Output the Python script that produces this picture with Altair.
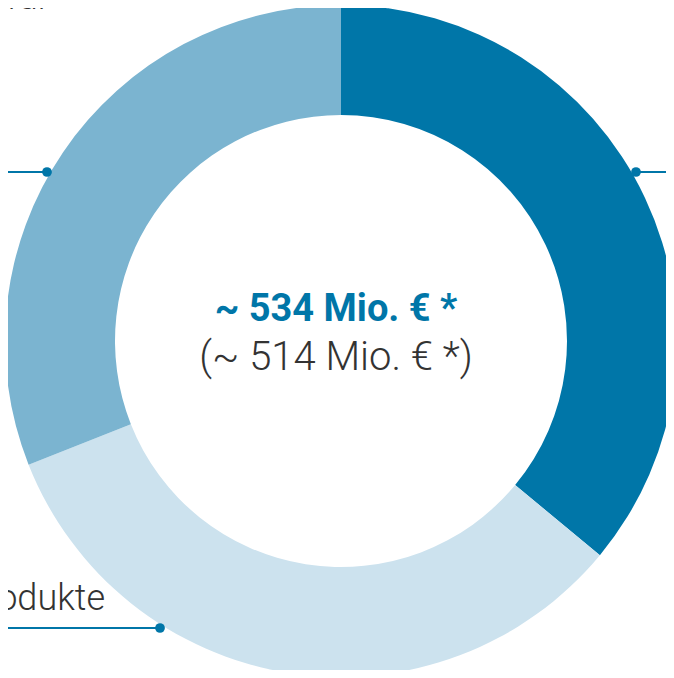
import altair as alt
import pandas as pd

# Donut segments (share in %), in drawing order clockwise from 12 o'clock
segments = ["Segment A", "Segment B", "Segment C"]
shares = [36, 33, 31]
colors = ["#0076A8", "#CCE2EE", "#7BB4D0"]
order = [1, 2, 3]

# Center labels
center_lines = ["~ 534 Mio. € *", "(~ 514 Mio. € *)"]

# Side labels (partially outside the visible crop)
side_labels = ["für", "Produkte"]

W, H = 658, 662
CX, CY = 333, 333

df = pd.DataFrame({"segment": segments, "share": shares, "order": order})

arc = alt.Chart(df).mark_arc(innerRadius=226, outerRadius=336, stroke=None).encode(
    theta=alt.Theta("share:Q", stack=True),
    order=alt.Order("order:Q"),
    color=alt.Color("segment:N", scale=alt.Scale(domain=segments, range=colors), legend=None),
    x=alt.value(CX),
    y=alt.value(CY),
)

xs = alt.Scale(domain=[0, W], range=[0, W])
ys = alt.Scale(domain=[0, H], range=[0, H])

# Leader lines (annotation frame, pixel-like units)
lead_x1 = [-8, 628, -8]
lead_x2 = [39, 674, 152]
lead_y = [164, 164, 620]
dot_x = [39, 628, 152]
ldf = pd.DataFrame({"x1": lead_x1, "x2": lead_x2, "y": lead_y, "dx": dot_x})

rules = alt.Chart(ldf).mark_rule(color="#0076A8", strokeWidth=2).encode(
    x=alt.X("x1:Q", scale=xs, axis=None),
    x2="x2:Q",
    y=alt.Y("y:Q", scale=ys, axis=None),
)
dots = alt.Chart(ldf).mark_circle(color="#0076A8", opacity=1, size=95).encode(
    x=alt.X("dx:Q", scale=xs, axis=None),
    y=alt.Y("y:Q", scale=ys, axis=None),
)

cdf = pd.DataFrame({"t": center_lines, "x": [328, 328], "y": [313, 362]})
t1 = alt.Chart(cdf.iloc[[0]]).mark_text(
    font="Roboto", fontSize=38, fontWeight="bold", color="#0076A8", align="center", baseline="alphabetic"
).encode(x=alt.X("x:Q", scale=xs, axis=None), y=alt.Y("y:Q", scale=ys, axis=None), text="t:N")
t2 = alt.Chart(cdf.iloc[[1]]).mark_text(
    font="Roboto", fontSize=40, fontWeight=300, color="#333333", align="center", baseline="alphabetic"
).encode(x=alt.X("x:Q", scale=xs, axis=None), y=alt.Y("y:Q", scale=ys, axis=None), text="t:N")

sdf = pd.DataFrame({"t": side_labels, "x": [42, 97], "y": [1, 602]})
side = alt.Chart(sdf).mark_text(
    font="Roboto", fontSize=36, fontWeight=300, color="#333333", align="right", baseline="alphabetic"
).encode(x=alt.X("x:Q", scale=xs, axis=None), y=alt.Y("y:Q", scale=ys, axis=None), text="t:N")

chart = alt.layer(arc, rules, dots, t1, t2, side).properties(
    width=W, height=H, padding=0, autosize=alt.AutoSizeParams(type="none")
).configure(background="white").configure_view(stroke=None)

chart.save("out.html", embed_options={"renderer": "svg", "actions": False})
